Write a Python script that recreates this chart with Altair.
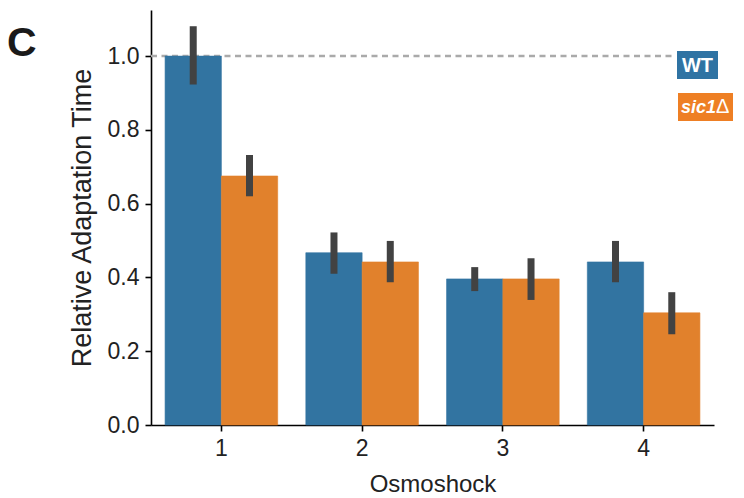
import altair as alt
import pandas as pd

shocks = ["1", "2", "3", "4"]
genotypes = ["WT", "sic1Δ"]
wt_mean = [1.0, 0.467, 0.396, 0.442]
wt_lo = [0.923, 0.410, 0.363, 0.387]
wt_hi = [1.081, 0.522, 0.428, 0.499]
sic_mean = [0.675, 0.442, 0.396, 0.304]
sic_lo = [0.620, 0.387, 0.339, 0.246]
sic_hi = [0.732, 0.499, 0.452, 0.360]

rows = []
for i, s in enumerate(shocks):
    rows.append({"shock": s, "geno": genotypes[0], "mean": wt_mean[i], "lo": wt_lo[i], "hi": wt_hi[i]})
    rows.append({"shock": s, "geno": genotypes[1], "mean": sic_mean[i], "lo": sic_lo[i], "hi": sic_hi[i]})
df = pd.DataFrame(rows)

BLUE = "#3274a1"
ORANGE = "#e1812c"
FONT = "Liberation Sans"

x_enc = alt.X("shock:N", title="Osmoshock",
              scale=alt.Scale(paddingInner=0.2, paddingOuter=0.1),
              axis=alt.Axis(labelAngle=0, labelFontSize=23, titleFontSize=24,
                            titlePadding=12, labelPadding=6))
xo_enc = alt.XOffset("geno:N", scale=alt.Scale(domain=genotypes, paddingInner=0, paddingOuter=0))
y_scale = alt.Scale(domain=[0, 1.125], nice=False, zero=True)
col_scale = alt.Scale(domain=genotypes, range=[BLUE, ORANGE])

base = alt.Chart(df)

bars = base.mark_bar(strokeWidth=0.6).encode(
    x=x_enc,
    xOffset=xo_enc,
    y=alt.Y("mean:Q", title="Relative Adaptation Time", scale=y_scale,
            axis=alt.Axis(values=[0, 0.2, 0.4, 0.6, 0.8, 1.0], format=".1f",
                          labelFontSize=23, titleFontSize=27, titlePadding=11, labelPadding=6)),
    color=alt.Color("geno:N", scale=col_scale, legend=None),
    stroke=alt.Stroke("geno:N", scale=col_scale, legend=None),
)

errs = base.mark_rule(color="#424242", strokeWidth=7).encode(
    x="shock:N",
    xOffset=xo_enc,
    y="lo:Q",
    y2="hi:Q",
)

one = alt.Data(values=[{"v": 1.0}])
ref = alt.Chart(one).mark_rule(color="#aaaaaa", strokeWidth=2.5, strokeDash=[6, 4.5]).encode(
    y=alt.Y("v:Q", scale=y_scale),
    x=alt.value(0),
    x2=alt.value(523),
)

blank = alt.Data(values=[{"a": 0}])
wt_box = alt.Chart(blank).mark_rect(color="#2f73a3").encode(
    x=alt.value(526), x2=alt.value(567), y=alt.value(41), y2=alt.value(69))
sic_box = alt.Chart(blank).mark_rect(color="#ee7f24").encode(
    x=alt.value(527), x2=alt.value(582), y=alt.value(83), y2=alt.value(111))
wt_txt = alt.Chart(blank).mark_text(text="WT", font=FONT, fontSize=20, fontWeight="bold",
                                    color="white", align="center", baseline="middle").encode(
    x=alt.value(546.5), y=alt.value(56))
sic_txt = alt.Chart(blank).mark_text(text="sic1", font=FONT, fontSize=18, fontWeight="bold",
                                     fontStyle="italic", color="white", align="left",
                                     baseline="middle").encode(
    x=alt.value(530), y=alt.value(98))
delta_txt = alt.Chart(blank).mark_text(text="Δ", font=FONT, fontSize=20, fontWeight="normal",
                                       color="white", align="left", baseline="middle").encode(
    x=alt.value(565), y=alt.value(97))
panel = alt.Chart(blank).mark_text(text="C", font=FONT, fontSize=41, fontWeight="bold",
                                   color="#1a1a1a", align="left", baseline="alphabetic").encode(
    x=alt.value(-144), y=alt.value(46))

chart = alt.layer(ref, bars, errs, wt_box, sic_box, wt_txt, sic_txt, delta_txt, panel).properties(
    width=563, height=415,
    padding={"left": 151, "top": 10, "right": 30, "bottom": 73},
    autosize=alt.AutoSizeParams(type="none"),
).configure_view(stroke=None).configure_axis(
    grid=False, domainColor="black", domainWidth=1.6, tickColor="black", tickWidth=1.6,
    tickSize=6, labelColor="#222222", titleColor="#222222", labelFont=FONT, titleFont=FONT,
    titleFontWeight="normal",
)

chart.save("out.html", embed_options={"renderer": "svg", "actions": False})
